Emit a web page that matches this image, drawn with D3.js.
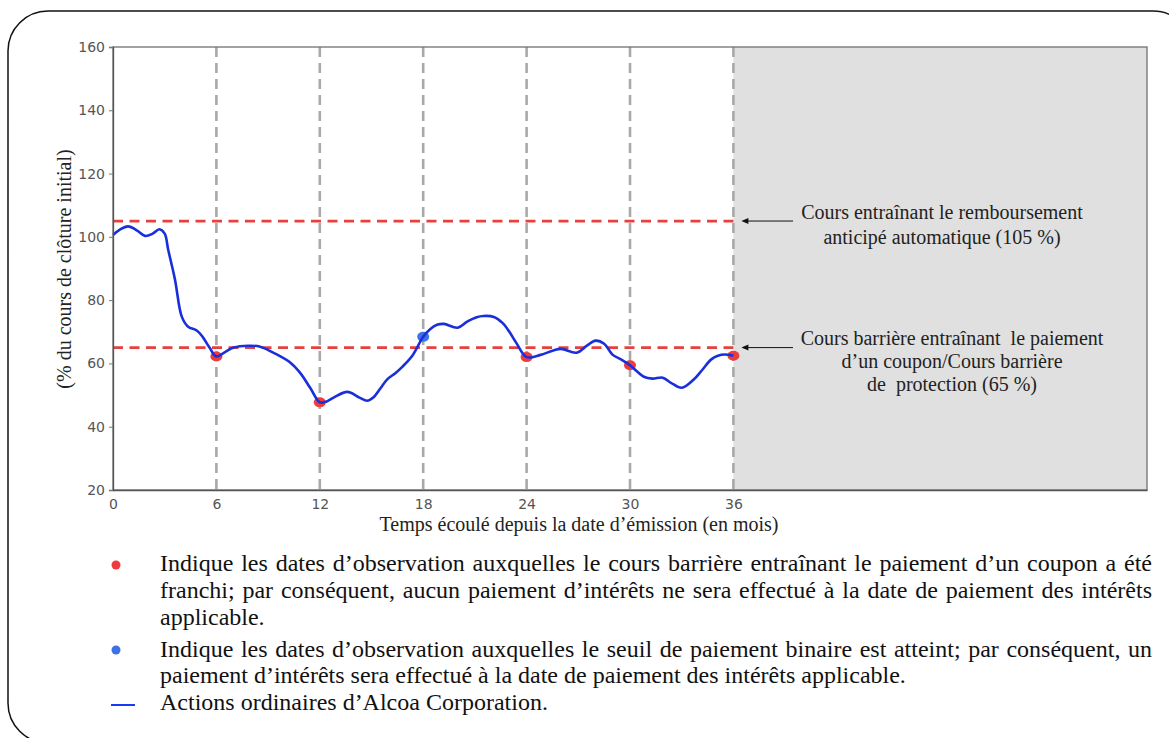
<!DOCTYPE html>
<html><head><meta charset="utf-8">
<script src="https://cdn.jsdelivr.net/npm/d3@7"></script>
<style>body{margin:0;background:#fff;}svg{display:block;}</style>
</head><body>
<svg id="c" width="1169" height="738"></svg>
<script>
// ---- data ----
const months = [0,0.4,0.87,1.4,1.86,2.3,2.69,3.0,3.2,3.6,3.99,4.36,4.86,5.2,5.6,6.0,6.5,7.0,7.84,8.54,9.3,10.28,10.86,11.44,12.0,12.4,12.8,13.6,14.3,14.75,15.1,15.5,15.9,16.4,16.8,17.4,18.0,18.4,18.8,19.2,20.0,20.55,21.1,21.5,22.1,22.6,23.0,23.4,24.0,24.8,25.5,26.0,26.9,27.5,28.0,28.5,29.0,29.5,30.0,30.4,30.8,31.3,31.9,32.4,33.0,33.7,34.2,34.7,35.1,35.5,36.0];
const values = [100.6,102.3,103.3,102.0,100.3,101.0,102.4,101.0,96.0,86.4,74.8,71.6,70.4,68.4,65.0,62.2,63.6,65.0,65.6,65.3,63.4,60.3,57.0,52.3,47.7,48.0,49.2,51.0,49.2,48.2,49.2,52.0,54.9,57.0,59.0,62.7,68.4,70.8,72.2,72.5,71.3,73.2,74.6,75.0,74.7,72.8,70.0,66.5,62.0,62.7,64.0,64.6,63.4,65.6,67.2,66.2,62.7,61.2,59.4,57.5,55.8,55.2,55.5,53.8,52.3,54.9,58.0,61.2,62.4,62.8,62.4];
const obsMonths = [6,12,18,24,30,36];
const obsValues = [62.2,47.7,68.4,62.0,59.4,62.4];
const obsHit = [false,false,true,false,false,false];   // true = blue (binary threshold reached)
const barriers = [105,65];
const xTicks = [0,6,12,18,24,30,36];
const yTicks = [20,40,60,80,100,120,140,160];
const annot105 = ["Cours entraînant le remboursement","anticipé automatique (105 %)"];
const annot65 = ["Cours barrière entraînant  le paiement","d’un coupon/Cours barrière","de  protection (65 %)"];
const legendParas = [
  {type:"red", lines:[
    ["Indique les dates d’observation auxquelles le cours barrière entraînant le paiement d’un coupon a été", true],
    ["franchi; par conséquent, aucun paiement d’intérêts ne sera effectué à la date de paiement des intérêts", true],
    ["applicable.", false]]},
  {type:"blue", lines:[
    ["Indique les dates d’observation auxquelles le seuil de paiement binaire est atteint; par conséquent, un", true],
    ["paiement d’intérêts sera effectué à la date de paiement des intérêts applicable.", false]]},
  {type:"line", lines:[["Actions ordinaires d’Alcoa Corporation.", false]]}
];

// ---- layout ----
const svg = d3.select("#c");
const L = 113, R = 1147, T = 47, B = 490;
const x = d3.scaleLinear().domain([0,60]).range([L,R]);
const y = d3.scaleLinear().domain([20,160]).range([B,T]);
const serif = "'Liberation Serif','Times New Roman',serif";

// outer rounded frame
svg.append("rect").attr("x",8).attr("y",11).attr("width",1185).attr("height",732)
  .attr("rx",40).attr("ry",40).attr("fill","none").attr("stroke","#111").attr("stroke-width",1.5);

// grey future region
svg.append("rect").attr("x",x(36)).attr("y",T).attr("width",x(60)-x(36)).attr("height",B-T).attr("fill","#e0e0e0");

// vertical dashed observation lines
svg.append("g").selectAll("line").data(obsMonths).join("line")
  .attr("x1",d=>x(d)).attr("x2",d=>x(d)).attr("y1",T).attr("y2",B)
  .attr("stroke","#a9a9a9").attr("stroke-width",2.6).attr("stroke-dasharray","10,6");

// red barrier lines
svg.append("g").selectAll("line").data(barriers).join("line")
  .attr("x1",x(0)).attr("x2",x(36)).attr("y1",d=>y(d)).attr("y2",d=>y(d))
  .attr("stroke","#e8403e").attr("stroke-width",2.8).attr("stroke-dasharray","10,6.5");

// observation dots
svg.append("g").selectAll("ellipse").data(obsMonths).join("ellipse")
  .attr("cx",d=>x(d)).attr("cy",(d,i)=>y(obsValues[i])).attr("rx",6).attr("ry",5)
  .attr("fill",(d,i)=>obsHit[i] ? "#3d72e6" : "#ef3b3b");

// price line
const pts = months.map((m,i)=>[m,values[i]]);
svg.append("path").datum(pts)
  .attr("d", d3.line().x(d=>x(d[0])).y(d=>y(d[1])).curve(d3.curveCatmullRom.alpha(0.5)))
  .attr("fill","none").attr("stroke","#1a2fdc").attr("stroke-width",2.6).attr("stroke-linejoin","round");

// frame
svg.append("rect").attr("x",L).attr("y",T).attr("width",R-L).attr("height",B-T)
  .attr("fill","none").attr("stroke","#707070").attr("stroke-width",1.3);

// axes
const yAxis = svg.append("g").attr("transform",`translate(${L},0)`)
  .call(d3.axisLeft(y).tickValues(yTicks).tickSize(4).tickPadding(4));
const xAxis = svg.append("g").attr("transform",`translate(0,${B})`)
  .call(d3.axisBottom(x).tickValues(xTicks).tickSize(0).tickPadding(9));
[yAxis,xAxis].forEach(g=>{
  g.attr("font-size",null).attr("font-family",null);
  g.select(".domain").attr("stroke","#555").attr("stroke-width",1.3);
  g.selectAll(".tick line").attr("stroke","#777");
  g.selectAll(".tick text").style("fill","#555").style("font-family","'DejaVu Sans',sans-serif")
    .style("font-size","14px");
});

// axis titles
svg.append("text").attr("x",579).attr("y",531).attr("text-anchor","middle")
  .attr("font-family",serif).attr("font-size",20).attr("fill","#222")
  .text("Temps écoulé depuis la date d’émission (en mois)");
svg.append("text").attr("transform","translate(71,269) rotate(-90)").attr("text-anchor","middle")
  .attr("font-family",serif).attr("font-size",20).attr("fill","#222")
  .text("(% du cours de clôture initial)");

// annotations with arrows
function arrow(yv){
  svg.append("line").attr("x1",793).attr("x2",x(36)+10).attr("y1",y(yv)).attr("y2",y(yv))
    .attr("stroke","#111").attr("stroke-width",1);
  svg.append("path").attr("d",`M${x(36)+8},${y(yv)} l7,-3 l0,6 z`).attr("fill","#111");
}
arrow(105); arrow(65);
svg.append("g").selectAll("text").data(annot105).join("text")
  .attr("x",942).attr("y",(d,i)=>219+i*25).attr("text-anchor","middle")
  .attr("font-family",serif).attr("font-size",20).attr("fill","#222").attr("xml:space","preserve").text(d=>d);
svg.append("g").selectAll("text").data(annot65).join("text")
  .attr("x",952).attr("y",(d,i)=>345+i*23).attr("text-anchor","middle")
  .attr("font-family",serif).attr("font-size",20).attr("fill","#222").attr("xml:space","preserve").text(d=>d);

// legend with justified text
const lx0 = 160, lx1 = 1152, fs = 24;
const baselines = [[571,598,624.5],[657,683],[710]];
const lg = svg.append("g").attr("font-family",serif).attr("font-size",fs).attr("fill","#111");
function measure(w){
  const t = lg.append("text").text(w); const n = t.node().getComputedTextLength(); t.remove(); return n;
}
legendParas.forEach((p,pi)=>{
  const by = baselines[pi][0];
  if(p.type==="red") lg.append("circle").attr("cx",116).attr("cy",by-6).attr("r",4.5).attr("fill","#ef3b3b");
  if(p.type==="blue") lg.append("circle").attr("cx",116).attr("cy",by-7).attr("r",4.5).attr("fill","#3d72e6");
  if(p.type==="line") lg.append("line").attr("x1",111).attr("x2",135).attr("y1",by-5).attr("y2",by-5)
     .attr("stroke","#1a3cf0").attr("stroke-width",2);
  p.lines.forEach((ln,li)=>{
    const yy = baselines[pi][li];
    const [txt,just] = ln;
    if(!just){ lg.append("text").attr("x",lx0).attr("y",yy).text(txt); return; }
    const words = txt.split(" ");
    const ws = words.map(measure);
    const gap = (lx1-lx0-d3.sum(ws))/(words.length-1);
    let cx = lx0;
    words.forEach((w,k)=>{ lg.append("text").attr("x",cx).attr("y",yy).text(w); cx += ws[k]+gap; });
  });
});
</script>
</body></html>
